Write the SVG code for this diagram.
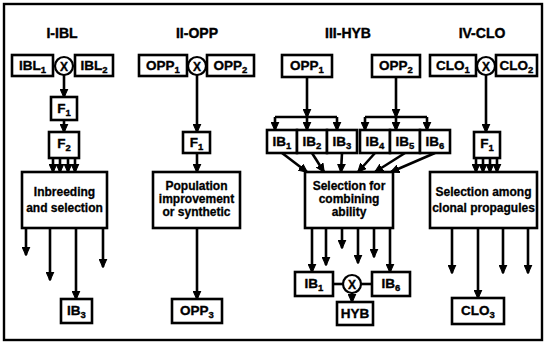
<svg xmlns="http://www.w3.org/2000/svg" width="547" height="344" viewBox="0 0 547 344">
<style>
.box{fill:#fff;stroke:#000;stroke-width:2.6}
.lbl{font-family:"Liberation Sans",Arial,sans-serif;font-weight:bold;font-size:13.5px;text-anchor:middle;fill:#000;stroke:#000;stroke-width:0.35}
.sub{font-size:9.5px}
.ttl{font-family:"Liberation Sans",Arial,sans-serif;font-weight:bold;font-size:14px;text-anchor:middle;fill:#000;stroke:#000;stroke-width:0.4}
.txt{font-family:"Liberation Sans",Arial,sans-serif;font-weight:bold;font-size:12px;text-anchor:middle;fill:#000;stroke:#000;stroke-width:0.3}
.x{fill:#fff;stroke:#000;stroke-width:2.2}
.xt{font-family:"Liberation Sans",Arial,sans-serif;font-weight:bold;font-size:12px;text-anchor:middle;fill:#000;stroke:#000;stroke-width:0.4}
.c{fill:none;stroke:#000;stroke-width:2.6}
.a{fill:none;stroke:#000;stroke-width:2.6;marker-end:url(#ah)}
</style>
<defs>
<marker id="ah" viewBox="0 -5 10 10" refX="9" refY="0" markerWidth="9" markerHeight="9" markerUnits="userSpaceOnUse" orient="auto">
<path d="M0,-4.3 L9.5,0 L0,4.3 Z" fill="#000" stroke="#000" stroke-width="1.2" stroke-linejoin="round"/>
</marker>
</defs>
<rect x="4" y="4" width="538" height="336" fill="#fff" stroke="#000" stroke-width="2.4"/>

<g id="connectors">
<path class="a" d="M64,75 V97"/>
<path class="a" d="M64,120 V132"/>
<path class="a" d="M53,158 V172"/>
<path class="a" d="M60,158 V172"/>
<path class="a" d="M68,158 V172"/>
<path class="a" d="M75,158 V172"/>
<path class="a" d="M26,228 V255"/>
<path class="a" d="M50,228 V280"/>
<path class="a" d="M76,228 V299"/>
<path class="a" d="M103,228 V267"/>
<path class="a" d="M197,75 V132"/>
<path class="a" d="M197,153 V172"/>
<path class="a" d="M197,228 V299"/>
<path class="a" d="M307,77 V117"/>
<path class="c" d="M275,117 H337"/>
<path class="a" d="M275,117 V130"/>
<path class="a" d="M307,117 V130"/>
<path class="a" d="M337,117 V130"/>
<path class="a" d="M396,77 V117"/>
<path class="c" d="M365,117 H427"/>
<path class="a" d="M365,117 V130"/>
<path class="a" d="M396,117 V130"/>
<path class="a" d="M427,117 V130"/>
<path class="a" d="M282,153 L307,172"/>
<path class="a" d="M312,153 L324,172"/>
<path class="a" d="M342,153 L341,172"/>
<path class="a" d="M375,153 L358,172"/>
<path class="a" d="M405,153 L375,172"/>
<path class="a" d="M435,153 L391,172"/>
<path class="a" d="M312,228 V272"/>
<path class="a" d="M326,228 V265"/>
<path class="a" d="M342,228 V248"/>
<path class="a" d="M358,228 V263"/>
<path class="a" d="M374,228 V257"/>
<path class="a" d="M390,228 V272"/>
<path class="c" d="M333,284 H343"/>
<path class="c" d="M361,284 H372"/>
<path class="a" d="M352,293 V302"/>
<path class="a" d="M486,75 V132"/>
<path class="a" d="M476,158 V172"/>
<path class="a" d="M483,158 V172"/>
<path class="a" d="M490,158 V172"/>
<path class="a" d="M497,158 V172"/>
<path class="a" d="M452,228 V273"/>
<path class="a" d="M478,228 V298"/>
<path class="a" d="M503,228 V273"/>
<path class="a" d="M528,228 V273"/>
</g>

<text class="ttl" x="62" y="38">I-IBL</text>
<text class="ttl" x="197" y="38">II-OPP</text>
<text class="ttl" x="348" y="38">III-HYB</text>
<text class="ttl" x="482" y="38">IV-CLO</text>

<g id="IBL1"><rect class="box" x="12" y="55" width="41" height="21"/><text class="lbl" x="32.5" y="70">IBL<tspan class="sub" dy="3">1</tspan></text></g>
<g id="crossI"><circle class="x" cx="64" cy="66" r="9"/><text class="xt" x="64" y="70.5">X</text></g>
<g id="IBL2"><rect class="box" x="75" y="55" width="38" height="21"/><text class="lbl" x="94" y="70">IBL<tspan class="sub" dy="3">2</tspan></text></g>
<g id="F1_I"><rect class="box" x="51" y="97" width="26" height="23"/><text class="lbl" x="64" y="113">F<tspan class="sub" dy="3">1</tspan></text></g>
<g id="F2_I"><rect class="box" x="49" y="132" width="30" height="26"/><text class="lbl" x="64" y="148">F<tspan class="sub" dy="3">2</tspan></text></g>
<g id="inbreeding"><rect class="box" x="22" y="172" width="85" height="56"/><text class="txt" x="64.5" y="196">Inbreeding</text><text class="txt" x="64.5" y="212">and selection</text></g>
<g id="IB3"><rect class="box" x="61" y="299" width="31" height="24"/><text class="lbl" x="76.5" y="315">IB<tspan class="sub" dy="3">3</tspan></text></g>

<g id="OPP1_II"><rect class="box" x="139" y="55" width="48" height="21"/><text class="lbl" x="163" y="70">OPP<tspan class="sub" dy="3">1</tspan></text></g>
<g id="crossII"><circle class="x" cx="197" cy="66" r="9"/><text class="xt" x="197" y="70.5">X</text></g>
<g id="OPP2_II"><rect class="box" x="207" y="55" width="47" height="21"/><text class="lbl" x="230.5" y="70">OPP<tspan class="sub" dy="3">2</tspan></text></g>
<g id="F1_II"><rect class="box" x="183" y="132" width="27" height="21"/><text class="lbl" x="196.5" y="147">F<tspan class="sub" dy="3">1</tspan></text></g>
<g id="population"><rect class="box" x="153" y="172" width="87" height="56"/><text class="txt" x="196.5" y="190">Population</text><text class="txt" x="196.5" y="203">improvement</text><text class="txt" x="196.5" y="216">or synthetic</text></g>
<g id="OPP3"><rect class="box" x="172" y="299" width="50" height="24"/><text class="lbl" x="197" y="315">OPP<tspan class="sub" dy="3">3</tspan></text></g>

<g id="OPP1_III"><rect class="box" x="282" y="55" width="50" height="22"/><text class="lbl" x="307" y="70">OPP<tspan class="sub" dy="3">1</tspan></text></g>
<g id="OPP2_III"><rect class="box" x="372" y="55" width="48" height="22"/><text class="lbl" x="396" y="70">OPP<tspan class="sub" dy="3">2</tspan></text></g>
<g id="IB1_top"><rect class="box" x="267" y="130" width="30" height="23"/><text class="lbl" x="282" y="146">IB<tspan class="sub" dy="3">1</tspan></text></g>
<g id="IB2_top"><rect class="box" x="297" y="130" width="30" height="23"/><text class="lbl" x="312" y="146">IB<tspan class="sub" dy="3">2</tspan></text></g>
<g id="IB3_top"><rect class="box" x="327" y="130" width="30" height="23"/><text class="lbl" x="342" y="146">IB<tspan class="sub" dy="3">3</tspan></text></g>
<g id="IB4_top"><rect class="box" x="360" y="130" width="30" height="23"/><text class="lbl" x="375" y="146">IB<tspan class="sub" dy="3">4</tspan></text></g>
<g id="IB5_top"><rect class="box" x="390" y="130" width="30" height="23"/><text class="lbl" x="405" y="146">IB<tspan class="sub" dy="3">5</tspan></text></g>
<g id="IB6_top"><rect class="box" x="420" y="130" width="30" height="23"/><text class="lbl" x="435" y="146">IB<tspan class="sub" dy="3">6</tspan></text></g>
<g id="combining"><rect class="box" x="305" y="172" width="88" height="56"/><text class="txt" x="349" y="190">Selection for</text><text class="txt" x="349" y="203">combining</text><text class="txt" x="349" y="216">ability</text></g>
<g id="IB1_bot"><rect class="box" x="295" y="272" width="38" height="24"/><text class="lbl" x="314" y="288">IB<tspan class="sub" dy="3">1</tspan></text></g>
<g id="crossIII"><circle class="x" cx="352" cy="284" r="9"/><text class="xt" x="352" y="288.5">X</text></g>
<g id="IB6_bot"><rect class="box" x="372" y="272" width="38" height="24"/><text class="lbl" x="391" y="288">IB<tspan class="sub" dy="3">6</tspan></text></g>
<g id="HYB"><rect class="box" x="337" y="302" width="36" height="23"/><text class="lbl" x="355" y="318">HYB</text></g>

<g id="CLO1"><rect class="box" x="430" y="55" width="46" height="21"/><text class="lbl" x="453" y="70">CLO<tspan class="sub" dy="3">1</tspan></text></g>
<g id="crossIV"><circle class="x" cx="486" cy="66" r="9"/><text class="xt" x="486" y="70.5">X</text></g>
<g id="CLO2"><rect class="box" x="496" y="55" width="41" height="21"/><text class="lbl" x="516.5" y="70">CLO<tspan class="sub" dy="3">2</tspan></text></g>
<g id="F1_IV"><rect class="box" x="474" y="132" width="26" height="26"/><text class="lbl" x="487" y="148">F<tspan class="sub" dy="3">1</tspan></text></g>
<g id="clonal"><rect class="box" x="430" y="172" width="107" height="56"/><text class="txt" x="483.5" y="196">Selection among</text><text class="txt" x="483.5" y="212">clonal propagules</text></g>
<g id="CLO3"><rect class="box" x="452" y="298" width="52" height="26"/><text class="lbl" x="478" y="315">CLO<tspan class="sub" dy="3">3</tspan></text></g>
</svg>
